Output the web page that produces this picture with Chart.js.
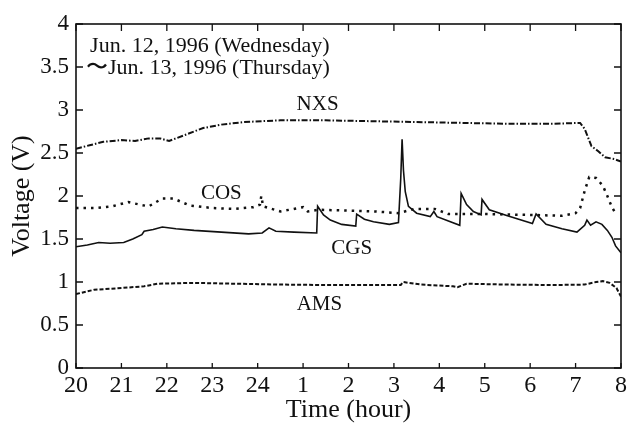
<!DOCTYPE html>
<html>
<head>
<meta charset="utf-8">
<script src="https://cdn.jsdelivr.net/npm/chart.js@4/dist/chart.umd.min.js"></script>
<style>
  html, body { margin: 0; padding: 0; background: #fff; }
  #wrap { width: 630px; height: 423px; }
</style>
</head>
<body>
<div id="wrap"><canvas id="voltChart"></canvas></div>
<script>
// hours since 20:00 on Jun. 12 -> axis labels
const hourTicks = [0, 1, 2, 3, 4, 5, 6, 7, 8, 9, 10, 11, 12];
const hourLabels = ['20', '21', '22', '23', '24', '1', '2', '3', '4', '5', '6', '7', '8'];
const voltTicks = [0, 0.5, 1, 1.5, 2, 2.5, 3, 3.5, 4];

const nxsHours = [0, 0.3, 0.6, 1.0, 1.3, 1.6, 1.85, 2.05, 2.4, 2.8, 3.2, 3.7, 4.5, 5.5, 6.5, 7.5, 8.5, 9.5, 10.5, 11.1, 11.2, 11.35, 11.5, 11.65, 11.85, 12.0];
const nxsVolts = [2.55, 2.59, 2.63, 2.65, 2.64, 2.67, 2.67, 2.64, 2.71, 2.79, 2.83, 2.86, 2.88, 2.88, 2.87, 2.86, 2.85, 2.84, 2.84, 2.85, 2.78, 2.58, 2.52, 2.45, 2.43, 2.40];

const cosHours = [0, 0.4, 0.8, 1.15, 1.4, 1.6, 1.9, 2.15, 2.5, 3.0, 3.5, 3.9, 4.05, 4.08, 4.12, 4.5, 4.9, 5.0, 5.1, 5.35, 6.0, 6.6, 7.1, 7.45, 7.9, 8.2, 9.0, 10.0, 10.7, 11.0, 11.1, 11.2, 11.3, 11.45, 11.6, 11.7, 11.8, 11.9];
const cosVolts = [1.86, 1.86, 1.88, 1.93, 1.90, 1.88, 1.97, 1.97, 1.89, 1.86, 1.85, 1.87, 1.90, 2.00, 1.88, 1.82, 1.86, 1.87, 1.82, 1.84, 1.83, 1.82, 1.80, 1.85, 1.85, 1.79, 1.79, 1.78, 1.77, 1.80, 1.86, 2.06, 2.22, 2.21, 2.12, 2.00, 1.87, 1.78];

const cgsHours = [0, 0.25, 0.5, 0.75, 1.05, 1.25, 1.45, 1.5, 1.7, 1.9, 2.2, 2.6, 3.2, 3.8, 4.1, 4.25, 4.4, 4.8, 5.3, 5.32, 5.45, 5.6, 5.85, 6.16, 6.18, 6.35, 6.55, 6.9, 7.1, 7.15, 7.18, 7.21, 7.25, 7.32, 7.5, 7.8, 7.88, 7.95, 8.2, 8.45, 8.48, 8.6, 8.75, 8.92, 8.94, 9.1, 9.5, 10.05, 10.13, 10.35, 10.7, 11.03, 11.2, 11.25, 11.33, 11.45, 11.58, 11.7, 11.8, 11.88, 12.0];
const cgsVolts = [1.41, 1.43, 1.46, 1.45, 1.46, 1.50, 1.55, 1.59, 1.61, 1.64, 1.62, 1.60, 1.58, 1.56, 1.57, 1.63, 1.59, 1.58, 1.57, 1.88, 1.78, 1.72, 1.67, 1.65, 1.79, 1.73, 1.70, 1.67, 1.69, 2.20, 2.66, 2.30, 2.05, 1.88, 1.80, 1.76, 1.82, 1.76, 1.71, 1.66, 2.03, 1.90, 1.82, 1.78, 1.96, 1.84, 1.77, 1.68, 1.79, 1.67, 1.62, 1.58, 1.66, 1.72, 1.66, 1.70, 1.67, 1.60, 1.52, 1.42, 1.34];

const amsHours = [0, 0.4, 1.0, 1.5, 1.8, 2.6, 3.5, 4.5, 5.5, 6.5, 7.15, 7.2, 7.6, 8.3, 8.4, 8.6, 9.5, 10.5, 11.2, 11.45, 11.6, 11.75, 11.9, 12.0];
const amsVolts = [0.86, 0.91, 0.93, 0.95, 0.98, 0.99, 0.98, 0.97, 0.965, 0.965, 0.965, 1.0, 0.97, 0.95, 0.94, 0.98, 0.97, 0.965, 0.97, 1.0, 1.01, 0.99, 0.93, 0.83];

const pts = (xs, ys) => xs.map((x, i) => ({ x, y: ys[i] }));

const serif = '"Liberation Serif", "DejaVu Serif", serif';
const ink = '#111';

// frame box with inward tick marks on all four sides
const frameTicks = {
    id: 'frameTicks',
    afterDatasetsDraw(chart) {
        const { ctx, chartArea: a, scales } = chart;
        ctx.save();
        ctx.strokeStyle = ink;
        ctx.lineWidth = 1.3;
        const len = 7;
        ctx.beginPath();
        hourTicks.forEach(v => {
            const px = scales.x.getPixelForValue(v);
            ctx.moveTo(px, a.top); ctx.lineTo(px, a.top + len);
            ctx.moveTo(px, a.bottom); ctx.lineTo(px, a.bottom - 5);
        });
        voltTicks.forEach(v => {
            const py = scales.y.getPixelForValue(v);
            ctx.moveTo(a.left, py); ctx.lineTo(a.left + len, py);
            ctx.moveTo(a.right, py); ctx.lineTo(a.right - len, py);
        });
        ctx.stroke();
        ctx.lineWidth = 1.6;
        ctx.strokeRect(a.left, a.top, a.right - a.left, a.bottom - a.top);
        ctx.restore();
    }
};

// series names and the date note, placed in data coordinates
const notes = {
    id: 'notes',
    afterDatasetsDraw(chart) {
        const { ctx, scales } = chart;
        const put = (text, x, y, align) => {
            ctx.textAlign = align;
            ctx.fillText(text, scales.x.getPixelForValue(x), scales.y.getPixelForValue(y));
        };
        ctx.save();
        ctx.fillStyle = ink;
        ctx.textBaseline = 'alphabetic';
        ctx.font = '22px ' + serif;
        put('Jun. 12, 1996 (Wednesday)', 0.31, 3.67, 'left');
        put('\u301CJun. 13, 1996 (Thursday)', 0.22, 3.42, 'left');
        ctx.font = '21px ' + serif;
        put('NXS', 5.32, 3.0, 'center');
        put('COS', 3.2, 1.97, 'center');
        put('CGS', 6.07, 1.33, 'center');
        put('AMS', 5.36, 0.67, 'center');
        ctx.restore();
    }
};

const line = (label, data, width, dash) => ({
    label, data,
    borderColor: ink,
    borderWidth: width,
    borderDash: dash,
    pointRadius: 0,
    tension: 0,
    fill: false
});

new Chart(document.getElementById('voltChart'), {
    type: 'line',
    data: {
        datasets: [
            line('NXS', pts(nxsHours, nxsVolts), 2, [6, 2, 1.5, 2]),
            line('COS', pts(cosHours, cosVolts), 2.5, [2.5, 5]),
            line('CGS', pts(cgsHours, cgsVolts), 1.6, []),
            line('AMS', pts(amsHours, amsVolts), 2, [4, 2])
        ]
    },
    options: {
        responsive: true,
        maintainAspectRatio: false,
        animation: false,
        layout: { padding: { left: 0, right: 8, top: 24, bottom: 0 } },
        plugins: {
            legend: { display: false },
            tooltip: { enabled: false }
        },
        scales: {
            x: {
                type: 'linear',
                min: 0,
                max: 12,
                afterBuildTicks: s => { s.ticks = hourTicks.map(v => ({ value: v })); },
                afterFit: s => { s.height = 55; },
                grid: { display: false, drawTicks: false },
                border: { display: false },
                ticks: {
                    padding: 3,
                    color: ink,
                    font: { family: serif, size: 24 },
                    maxRotation: 0,
                    callback: v => hourLabels[hourTicks.indexOf(v)]
                },
                title: {
                    display: true,
                    text: 'Time (hour)',
                    color: ink,
                    font: { family: serif, size: 26, lineHeight: 1 },
                    padding: { top: 0, bottom: 0 }
                }
            },
            y: {
                min: 0,
                max: 4,
                afterBuildTicks: s => { s.ticks = voltTicks.map(v => ({ value: v })); },
                afterFit: s => { s.width = 76; },
                grid: { display: false, drawTicks: false },
                border: { display: false },
                ticks: {
                    padding: 7,
                    color: ink,
                    font: { family: serif, size: 23 },
                    callback: v => String(v)
                },
                title: {
                    display: true,
                    text: 'Voltage (V)',
                    color: ink,
                    font: { family: serif, size: 26, lineHeight: 1 },
                    padding: { top: 9, bottom: 0 }
                }
            }
        }
    },
    plugins: [frameTicks, notes]
});
</script>
</body>
</html>
